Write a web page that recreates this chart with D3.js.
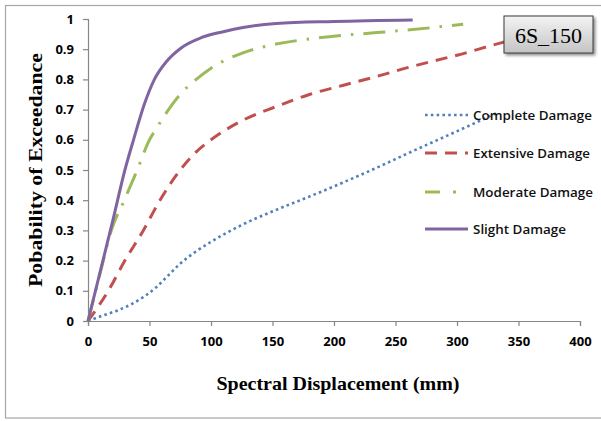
<!DOCTYPE html>
<html>
<head>
<meta charset="utf-8">
<script src="https://cdn.jsdelivr.net/npm/d3@7"></script>
<style>
  html, body { margin: 0; padding: 0; background: #fff; }
  svg { display: block; }
</style>
</head>
<body>
<svg id="chart" width="601" height="421"></svg>
<script>
// Fragility curves: spectral displacement (mm) vs probability of exceedance
const xTicks = [0, 50, 100, 150, 200, 250, 300, 350, 400];
const yTicks = [0, 0.1, 0.2, 0.3, 0.4, 0.5, 0.6, 0.7, 0.8, 0.9, 1];

const seriesNames = ["Complete Damage", "Extensive Damage", "Moderate Damage", "Slight Damage"];

const completeSd = [0, 12, 24, 35, 46, 55, 65, 75, 87, 100, 125, 153, 180, 207, 235, 260, 302, 333];
const completeP  = [0, 0.018, 0.035, 0.055, 0.082, 0.11, 0.15, 0.19, 0.228, 0.262, 0.318, 0.368, 0.412, 0.458, 0.508, 0.555, 0.632, 0.69];

const extensiveSd = [0, 16.5, 30, 45, 58.5, 75, 88, 100, 126, 153, 180, 207, 235, 259, 280, 300, 335, 360];
const extensiveP  = [0, 0.1, 0.2, 0.3, 0.4, 0.5, 0.56, 0.6, 0.665, 0.71, 0.75, 0.78, 0.81, 0.838, 0.86, 0.88, 0.92, 0.945];

const moderateSd = [0, 10, 19, 29.5, 40, 50, 56, 63, 76, 88, 100, 126, 153, 180, 207, 235, 255, 281, 305];
const moderateP  = [0, 0.16, 0.3, 0.4, 0.5, 0.6, 0.64, 0.685, 0.755, 0.80, 0.837, 0.888, 0.917, 0.934, 0.946, 0.955, 0.962, 0.972, 0.983];

const slightSd = [0, 10, 20, 30, 37, 46, 54, 64, 76, 92, 110, 126, 153, 200, 264];
const slightP  = [0, 0.165, 0.33, 0.5, 0.6, 0.72, 0.8, 0.86, 0.905, 0.938, 0.958, 0.972, 0.985, 0.992, 0.997];

const panelLabel = "6S_150";
const xTitle = "Spectral Displacement (mm)";
const yTitle = "Pobability of Exceedance";

const series = [
  { name: seriesNames[0], sd: completeSd, p: completeP, color: "#4F81BD", width: 2.6, dash: "2.6,3.2", legendDash: "2.6,3.2", textLen: 119 },
  { name: seriesNames[1], sd: extensiveSd, p: extensiveP, color: "#C0504D", width: 3, dash: "12,8", legendDash: "12,8", textLen: 117 },
  { name: seriesNames[2], sd: moderateSd, p: moderateP, color: "#9BBB59", width: 3, dash: "22,10,2.5,10", legendDash: "15,13,3,12", textLen: 120 },
  { name: seriesNames[3], sd: slightSd, p: slightP, color: "#8064A2", width: 3, dash: null, legendDash: null, textLen: 93 }
];

const svg = d3.select("#chart");

// outer chart frame
svg.append("rect")
  .attr("x", 5.5).attr("y", 5.5)
  .attr("width", 640).attr("height", 412.5)
  .attr("fill", "#fff").attr("stroke", "#a6a6a6").attr("stroke-width", 1.2);

const plot = { left: 88, right: 580, top: 19, bottom: 321 };
const x = d3.scaleLinear().domain([0, 400]).range([plot.left, plot.right]);
const y = d3.scaleLinear().domain([0, 1]).range([plot.bottom, plot.top]);

const tickFont = "'Open Sans', 'DejaVu Sans', sans-serif";

// y axis
const yAxis = svg.append("g")
  .attr("transform", `translate(${plot.left},0)`)
  .call(d3.axisLeft(y).tickValues(yTicks).tickSize(5).tickPadding(9)
    .tickFormat(d => d === 0 ? "0" : (d === 1 ? "1" : d3.format(".1f")(d))));

// x axis
const xAxis = svg.append("g")
  .attr("transform", `translate(0,${plot.bottom})`)
  .call(d3.axisBottom(x).tickValues(xTicks).tickSize(5).tickPadding(11));

[yAxis, xAxis].forEach(g => {
  g.select(".domain").attr("stroke", "#868686").attr("stroke-width", 1.2);
  g.selectAll(".tick line").attr("stroke", "#868686").attr("stroke-width", 1.2);
  g.selectAll(".tick text")
    .attr("fill", "#000")
    .style("font-family", tickFont)
    .style("font-weight", "700")
    .style("font-size", "13px");
});

// curves
const line = d3.line()
  .x(d => x(d[0]))
  .y(d => y(d[1]))
  .curve(d3.curveMonotoneX);

const curves = svg.append("g");
series.forEach(s => {
  const pts = s.sd.map((v, i) => [v, s.p[i]]);
  curves.append("path")
    .datum(pts)
    .attr("d", line)
    .attr("fill", "none")
    .attr("stroke", s.color)
    .attr("stroke-width", s.width)
    .attr("stroke-linejoin", "round")
    .attr("stroke-dasharray", s.dash);
});

// legend
const legendRows = [115, 153, 192, 229];
const legend = svg.append("g");
series.forEach((s, i) => {
  const ly = legendRows[i];
  legend.append("line")
    .attr("x1", 425).attr("x2", 468)
    .attr("y1", ly).attr("y2", ly)
    .attr("stroke", s.color)
    .attr("stroke-width", s.width)
    .attr("stroke-dasharray", s.legendDash);
  legend.append("text")
    .attr("x", 473).attr("y", ly + 4.5)
    .attr("fill", "#111")
    .style("font-family", tickFont)
    .style("font-weight", "600")
    .style("font-size", "13px")
    .attr("textLength", s.textLen)
    .attr("lengthAdjust", "spacingAndGlyphs")
    .text(s.name);
});

// axis titles
svg.append("text")
  .attr("x", 338).attr("y", 390)
  .attr("text-anchor", "middle")
  .style("font-family", "'Liberation Serif', 'Times New Roman', serif")
  .style("font-weight", "700")
  .style("font-size", "19px")
  .attr("textLength", 243)
  .attr("lengthAdjust", "spacingAndGlyphs")
  .text(xTitle);

svg.append("text")
  .attr("transform", "translate(42,170) rotate(-90)")
  .attr("text-anchor", "middle")
  .style("font-family", "'Liberation Serif', 'Times New Roman', serif")
  .style("font-weight", "700")
  .style("font-size", "19px")
  .attr("textLength", 234)
  .attr("lengthAdjust", "spacingAndGlyphs")
  .text(yTitle);

// panel label box
const defs = svg.append("defs");
const grad = defs.append("linearGradient").attr("id", "boxGrad")
  .attr("x1", 0).attr("y1", 0).attr("x2", 0).attr("y2", 1);
grad.append("stop").attr("offset", "0%").attr("stop-color", "#f4f4f4");
grad.append("stop").attr("offset", "100%").attr("stop-color", "#c4c4c4");

const shadow = defs.append("filter").attr("id", "boxShadow")
  .attr("x", "-20%").attr("y", "-20%").attr("width", "150%").attr("height", "160%");
shadow.append("feGaussianBlur").attr("in", "SourceAlpha").attr("stdDeviation", 1.5).attr("result", "b");
shadow.append("feOffset").attr("in", "b").attr("dx", 2).attr("dy", 2).attr("result", "o");
shadow.append("feComponentTransfer").attr("in", "o").attr("result", "s")
  .append("feFuncA").attr("type", "linear").attr("slope", 0.45);
const merge = shadow.append("feMerge");
merge.append("feMergeNode").attr("in", "s");
merge.append("feMergeNode").attr("in", "SourceGraphic");

svg.append("rect")
  .attr("x", 504).attr("y", 16)
  .attr("width", 89).attr("height", 37)
  .attr("fill", "url(#boxGrad)")
  .attr("stroke", "#3a3a3a").attr("stroke-width", 1)
  .attr("filter", "url(#boxShadow)");

svg.append("text")
  .attr("x", 548.5).attr("y", 42.5)
  .attr("text-anchor", "middle")
  .attr("fill", "#000")
  .style("font-family", "'Liberation Serif', 'Times New Roman', serif")
  .style("font-size", "22px")
  .text(panelLabel);
</script>
</body>
</html>
